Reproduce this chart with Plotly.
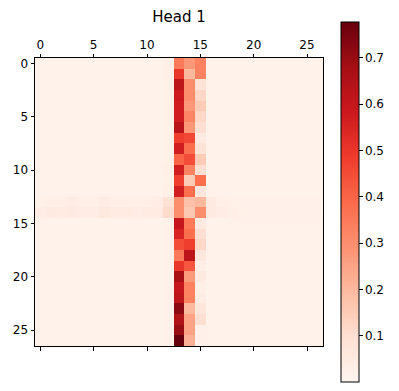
import plotly.graph_objects as go
import plotly.express as px

N = 27
background = 0.015

# attention weights, one list per stand-out column / row
col12 = [0.03, 0.03, 0.025, 0.025, 0.025, 0.025, 0.025, 0.025, 0.025, 0.025, 0.03, 0.025, 0.03,
         0.09, 0.11, 0.025, 0.02, 0.02, 0.02, 0.02, 0.02, 0.02, 0.02, 0.02, 0.02, 0.02, 0.02]
col13 = [0.35, 0.50, 0.62, 0.58, 0.57, 0.57, 0.63, 0.48, 0.57, 0.40, 0.57, 0.48, 0.57,
         0.30, 0.30, 0.60, 0.55, 0.45, 0.35, 0.50, 0.67, 0.60, 0.62, 0.72, 0.65, 0.70, 0.78]
col14 = [0.28, 0.20, 0.30, 0.30, 0.28, 0.32, 0.28, 0.46, 0.38, 0.45, 0.33, 0.15, 0.38,
         0.18, 0.16, 0.35, 0.38, 0.48, 0.62, 0.43, 0.27, 0.33, 0.33, 0.20, 0.25, 0.25, 0.22]
col15 = [0.33, 0.33, 0.08, 0.12, 0.15, 0.12, 0.10, 0.05, 0.08, 0.15, 0.10, 0.38, 0.07,
         0.20, 0.30, 0.05, 0.10, 0.12, 0.06, 0.03, 0.05, 0.03, 0.04, 0.07, 0.10, 0.02, 0.02]
col16 = [0.015, 0.015, 0.015, 0.015, 0.015, 0.015, 0.015, 0.015, 0.015, 0.015, 0.015, 0.015, 0.015,
         0.05, 0.05, 0.015, 0.015, 0.015, 0.015, 0.015, 0.015, 0.015, 0.015, 0.015, 0.015, 0.015, 0.015]
row13 = [0.025, 0.03, 0.03, 0.035, 0.03, 0.03, 0.035, 0.03, 0.03, 0.03, 0.03, 0.035, 0.09,
         0.30, 0.18, 0.20, 0.05, 0.03, 0.025, 0.02, 0.02, 0.02, 0.02, 0.02, 0.02, 0.02, 0.02]
row14 = [0.04, 0.05, 0.045, 0.05, 0.04, 0.04, 0.055, 0.045, 0.045, 0.04, 0.045, 0.045, 0.11,
         0.30, 0.16, 0.30, 0.05, 0.035, 0.03, 0.025, 0.02, 0.02, 0.02, 0.02, 0.02, 0.02, 0.02]

tick_vals = [0, 5, 10, 15, 20, 25]
cbar_ticks = [0.1, 0.2, 0.3, 0.4, 0.5, 0.6, 0.7]

z = [[background] * N for _ in range(N)]
for c, col in [(12, col12), (13, col13), (14, col14), (15, col15), (16, col16)]:
    for r in range(N):
        z[r][c] = col[r]
z[13] = list(row13)
z[14] = list(row14)

font = dict(family='DejaVu Sans', size=12, color='black')

fig = go.Figure(go.Heatmap(
    z=z,
    x=list(range(N)),
    y=list(range(N)),
    colorscale=px.colors.sequential.Reds,
    zmin=0.0,
    zmax=0.777,
    colorbar=dict(
        x=1.0625, xanchor='left', xpad=0,
        y=0.5, yanchor='middle',
        thickness=18,
        len=360, lenmode='pixels',
        ypad=0,
        outlinewidth=1, outlinecolor='black',
        tickvals=cbar_ticks,
        ticktext=[f'{v:.1f}' for v in cbar_ticks],
        ticks='outside', ticklen=3.5, tickwidth=0.8, tickcolor='black',
        tickfont=font,
    ),
))

axis_style = dict(
    showline=True, linecolor='black', linewidth=1,
    ticks='outside', ticklen=3.5, tickwidth=0.8, tickcolor='black',
    tickvals=tick_vals, showgrid=False, zeroline=False,
    tickfont=font, automargin=False,
)

fig.update_xaxes(range=[-0.5, 26.5], side='top', mirror='ticks', **axis_style)
fig.update_yaxes(range=[26.5, -0.5], mirror=True, **axis_style)

# page body adds an 8px margin, so the figure is 8px smaller each way
fig.update_layout(
    width=391, height=383,
    margin=dict(l=27, r=76, t=50, b=45),
    paper_bgcolor='white', plot_bgcolor='white',
    title=dict(text='Head 1', x=0.5, xref='paper', y=1 - 9 / 383, yanchor='middle',
               font=dict(family='DejaVu Sans', size=15, color='black')),
    font=font,
)

fig.write_html("out.html")
